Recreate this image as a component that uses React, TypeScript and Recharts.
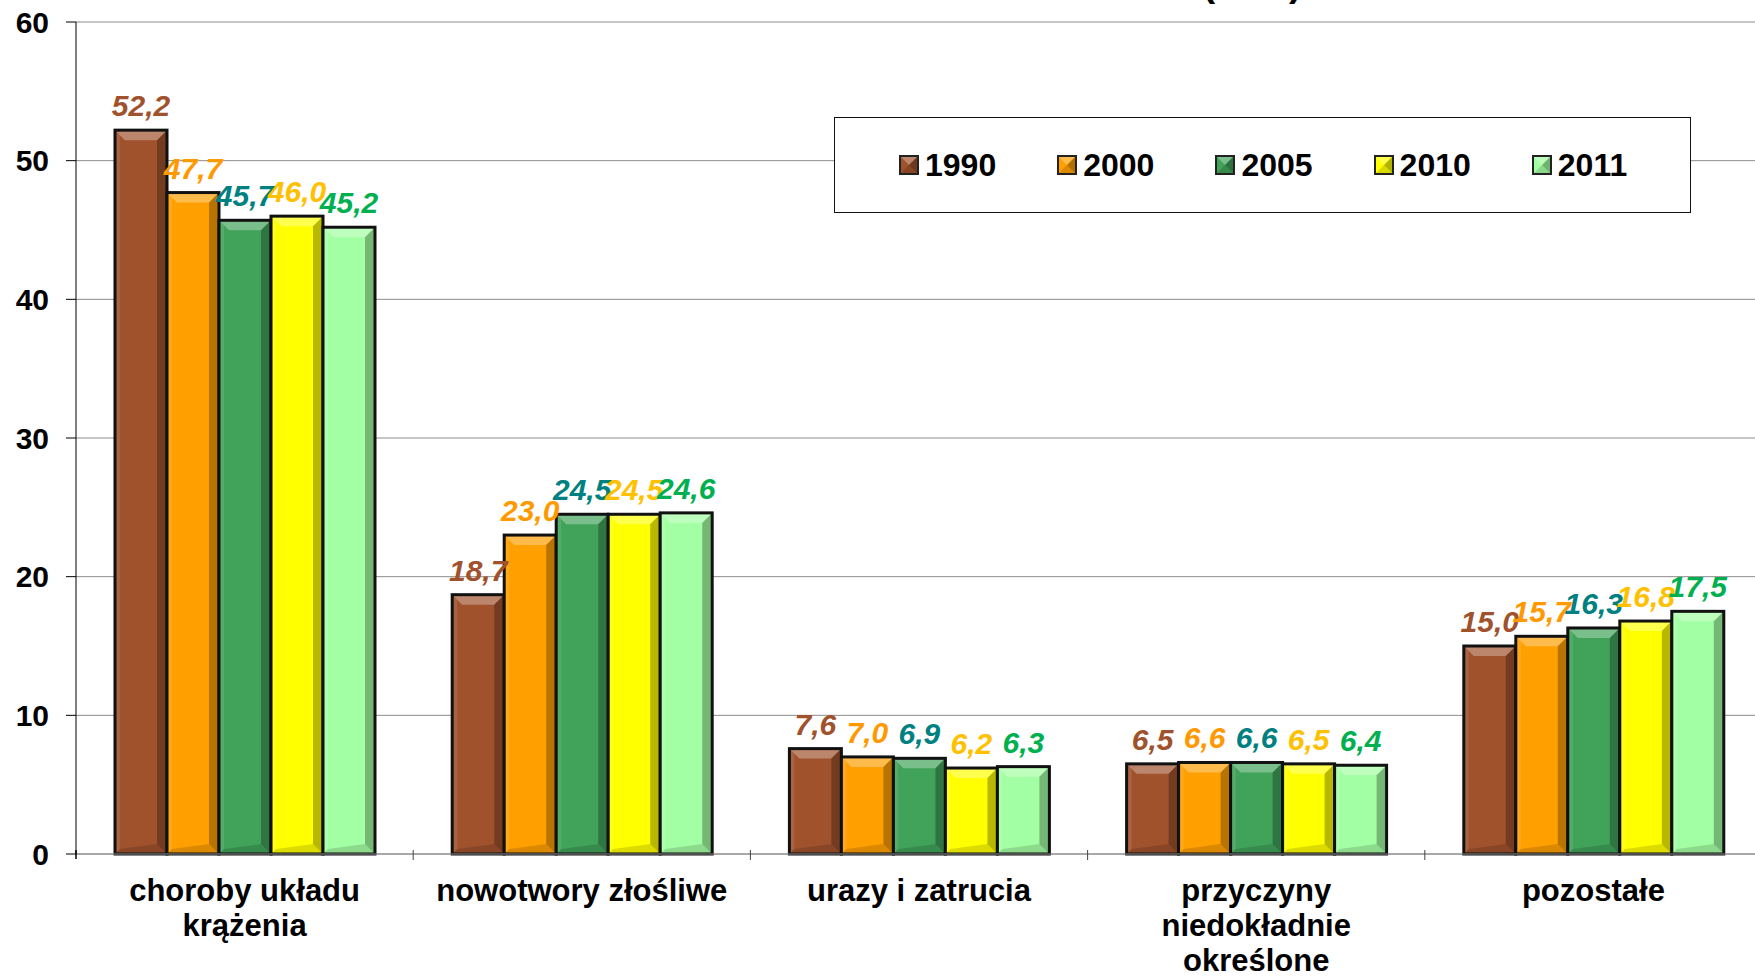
import React from 'react';
import {
  Bar,
  BarChart,
  CartesianGrid,
  LabelList,
  XAxis,
  YAxis,
} from 'recharts';

const categories = [
  'choroby układu\nkrążenia',
  'nowotwory złośliwe',
  'urazy i zatrucia',
  'przyczyny\nniedokładnie\nokreślone',
  'pozostałe',
];

const v1990 = [52.2, 18.7, 7.6, 6.5, 15.0];
const v2000 = [47.7, 23.0, 7.0, 6.6, 15.7];
const v2005 = [45.7, 24.5, 6.9, 6.6, 16.3];
const v2010 = [46.0, 24.5, 6.2, 6.5, 16.8];
const v2011 = [45.2, 24.6, 6.3, 6.4, 17.5];

const yTicks = [0, 10, 20, 30, 40, 50, 60];

const series = [
  { key: 'y1990', name: '1990', values: v1990, fill: '#A0522D', label: '#A0522D' },
  { key: 'y2000', name: '2000', values: v2000, fill: '#FFA000', label: '#FF9900' },
  { key: 'y2005', name: '2005', values: v2005, fill: '#41A35A', label: '#008080' },
  { key: 'y2010', name: '2010', values: v2010, fill: '#FFFF00', label: '#FFC000' },
  { key: 'y2011', name: '2011', values: v2011, fill: '#A3FFA3', label: '#00B050' },
];

const data = categories.map((name, i) => {
  const row: Record<string, string | number> = { name };
  series.forEach((s) => {
    row[s.key] = s.values[i];
  });
  return row;
});

const FONT = '"Liberation Sans", Arial, sans-serif';
const fmt = (v: unknown) => Number(v).toFixed(1).replace('.', ',');

function BevelBar(props: any) {
  const { x, y, width, height, fill } = props;
  if (!height || height <= 0) return null;
  const b = Math.min(10, width / 2, height / 2);
  const x0 = x;
  const x1 = x + width;
  const y0 = y;
  const y1 = y + height;
  return (
    <g>
      <rect x={x0} y={y0} width={width} height={height} fill={fill} />
      <polygon
        points={`${x0},${y0} ${x1},${y0} ${x1 - b},${y0 + b} ${x0 + b},${y0 + b}`}
        fill="#fff"
        fillOpacity={0.3}
      />
      <polygon
        points={`${x1},${y0} ${x1},${y1} ${x1 - b},${y1 - b} ${x1 - b},${y0 + b}`}
        fill="#000"
        fillOpacity={0.28}
      />
      <polygon
        points={`${x0},${y0} ${x0 + b * 0.5},${y0 + b * 0.5} ${x0 + b * 0.5},${y1 - b * 0.5} ${x0},${y1}`}
        fill="#fff"
        fillOpacity={0.1}
      />
      <polygon
        points={`${x0},${y1} ${x1},${y1} ${x1 - b},${y1 - b} ${x0 + b * 0.5},${y1 - b * 0.5}`}
        fill="#000"
        fillOpacity={0.14}
      />
      <rect
        x={x0}
        y={y0}
        width={width}
        height={height}
        fill="none"
        stroke="#111"
        strokeWidth={3}
      />
    </g>
  );
}

function CategoryTick(props: any) {
  const { x, y, payload, index } = props;
  const lines = String(payload.value).split('\n');
  const half = payload.offset || 0;
  return (
    <g>
      {index === 0 && (
        <line x1={x - half} y1={y - 12} x2={x - half} y2={y - 3} stroke="#000" strokeWidth={1.5} />
      )}
      {index < categories.length - 1 && (
        <line x1={x + half} y1={y - 12} x2={x + half} y2={y - 2} stroke="#444" strokeWidth={1} />
      )}
      <text
        x={x}
        y={y + 39}
        textAnchor="middle"
        fontFamily={FONT}
        fontWeight="bold"
        fontSize={31}
        fill="#000"
      >
        {lines.map((l, i) => (
          <tspan key={i} x={x} dy={i === 0 ? 0 : 35}>
            {l}
          </tspan>
        ))}
      </text>
    </g>
  );
}

function Swatch({ color }: { color: string }) {
  return (
    <svg width={20} height={20} style={{ display: 'block' }}>
      <rect x={0} y={0} width={20} height={20} fill={color} />
      <polygon points="0,0 20,0 10,10" fill="#fff" fillOpacity={0.3} />
      <polygon points="20,0 20,20 10,10" fill="#000" fillOpacity={0.3} />
      <polygon points="0,20 20,20 10,10" fill="#000" fillOpacity={0.15} />
      <rect x={1} y={1} width={18} height={18} fill="none" stroke="#222" strokeWidth={2} />
    </svg>
  );
}

function LegendBox() {
  return (
    <div
      style={{
        position: 'absolute',
        left: 834,
        top: 117,
        width: 857,
        height: 96,
        boxSizing: 'border-box',
        border: '1.5px solid #111',
        background: '#fff',
        display: 'flex',
        alignItems: 'center',
        paddingLeft: 64,
      }}
    >
      {series.map((s) => (
        <div
          key={s.key}
          style={{ width: 160, display: 'flex', alignItems: 'center', gap: 6 }}
        >
          <Swatch color={s.fill} />
          <span
            style={{
              fontFamily: FONT,
              fontWeight: 'bold',
              fontSize: 32,
              color: '#000',
              lineHeight: 1,
            }}
          >
            {s.name}
          </span>
        </div>
      ))}
    </div>
  );
}

export default function App() {
  return (
    <div
      style={{
        position: 'absolute',
        left: 0,
        top: 0,
        width: 1755,
        height: 977,
        overflow: 'hidden',
        background: '#fff',
      }}
    >
      <BarChart
        width={1762}
        height={977}
        data={data}
        margin={{ top: 22, right: 0, left: 0, bottom: 0 }}
        barGap={0}
        barSize={52}
      >
        <CartesianGrid stroke="#8c8c8c" vertical={false} />
        <XAxis
          dataKey="name"
          height={123}
          interval={0}
          axisLine={{ stroke: '#8c8c8c' }}
          tickLine={false}
          tick={<CategoryTick />}
        />
        <YAxis
          width={76}
          domain={[0, 60]}
          ticks={yTicks}
          interval={0}
          axisLine={{ stroke: '#000' }}
          tickLine={{ stroke: '#000' }}
          tickSize={10}
          tickMargin={17}
          tick={{ fontFamily: FONT, fontWeight: 'bold', fontSize: 30, fill: '#000' }}
        />
        {series.map((s) => (
          <Bar
            key={s.key}
            dataKey={s.key}
            name={s.name}
            fill={s.fill}
            shape={<BevelBar />}
            isAnimationActive={false}
          >
            <LabelList
              dataKey={s.key}
              position="top"
              offset={14}
              formatter={fmt}
              fill={s.label}
              fontFamily={FONT}
              fontWeight="bold"
              fontStyle="italic"
              fontSize={30}
            />
          </Bar>
        ))}
      </BarChart>
      <LegendBox />
      <svg
        width={1755}
        height={20}
        style={{ position: 'absolute', left: 0, top: 0, pointerEvents: 'none' }}
      >
        <text
          x={1252}
          y={-4}
          textAnchor="middle"
          fontFamily={FONT}
          fontWeight="bold"
          fontSize={38}
          fill="#000"
        >
          (w %)
        </text>
      </svg>
    </div>
  );
}
